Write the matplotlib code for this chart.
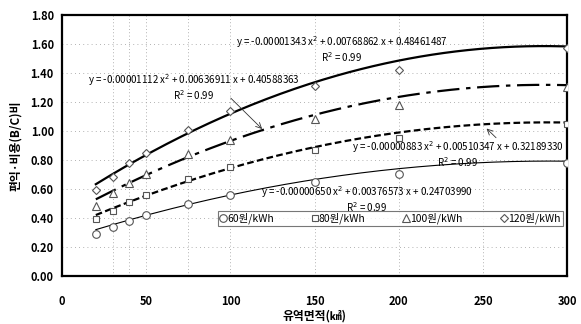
import matplotlib
matplotlib.use("Agg")
import matplotlib.pyplot as plt
import numpy as np

plt.rcParams['font.family'] = ['Noto Sans CJK KR', 'DejaVu Sans']

x_vals = [20, 30, 40, 50, 75, 100, 150, 200, 300]
y_60 = [0.29, 0.34, 0.38, 0.42, 0.50, 0.56, 0.65, 0.70, 0.78]
y_80 = [0.39, 0.45, 0.51, 0.56, 0.67, 0.75, 0.87, 0.95, 1.05]
y_100 = [0.48, 0.57, 0.64, 0.70, 0.84, 0.94, 1.08, 1.18, 1.30]
y_120 = [0.59, 0.68, 0.78, 0.85, 1.01, 1.14, 1.31, 1.42, 1.57]

coef_60 = [-0.00000650, 0.00376573, 0.24703990]
coef_80 = [-0.00000883, 0.00510347, 0.32189330]
coef_100 = [-0.00001112, 0.00636911, 0.40588363]
coef_120 = [-0.00001343, 0.00768862, 0.48461487]

labels = ['60원/kWh', '80원/kWh', '100원/kWh', '120원/kWh']
eq_texts = [
    'y = -0.00000650 x$^2$ + 0.00376573 x + 0.24703990\nR$^2$ = 0.99',
    'y = -0.00000883 x$^2$ + 0.00510347 x + 0.32189330\nR$^2$ = 0.99',
    'y = -0.00001112 x$^2$ + 0.00636911 x + 0.40588363\nR$^2$ = 0.99',
    'y = -0.00001343 x$^2$ + 0.00768862 x + 0.48461487\nR$^2$ = 0.99',
]

fig = plt.figure(figsize=(5.81, 3.24), dpi=100)
ax = fig.add_axes([0.107, 0.148, 0.869, 0.806])

# grid
for xv in [30, 40, 50, 75, 100, 150, 200, 250]:
    ax.axvline(xv, color='#999999', lw=0.6, ls=(0, (1, 3)), zorder=0)
for yv in np.arange(0.2, 1.8, 0.2):
    ax.axhline(yv, color='#999999', lw=0.6, ls=(0, (1, 4)), zorder=0)

xf = np.linspace(20, 300, 200)
series = [(y_60, coef_60, 'o', dict(lw=0.8, ls='-')),
          (y_80, coef_80, 's', dict(lw=1.6, ls=(0, (3, 1.5)))),
          (y_100, coef_100, '^', dict(lw=1.6, ls=(0, (10, 3, 2, 3)))),
          (y_120, coef_120, 'D', dict(lw=1.6, ls='-'))]
msizes = {'o': 5.5, 's': 4.5, '^': 5.5, 'D': 4.5}
handles = []
for (yv, c, m, st), lab in zip(series, labels):
    yf = np.polyval(c, xf)
    ax.plot(xf, yf, color='black', zorder=2, **st)
    h, = ax.plot(x_vals, yv, ls='none', marker=m, ms=msizes[m], mfc='white',
                 mec='#555555', mew=0.8, zorder=3, label=lab)
    handles.append(h)

ax.set_xlim(0, 300)
ax.set_ylim(0, 1.8)
ax.set_xticks([0, 50, 100, 150, 200, 250, 300])
ax.set_yticks(np.arange(0, 1.81, 0.2))
ax.set_yticklabels([f'{v:.2f}' for v in np.arange(0, 1.81, 0.2)])
ax.tick_params(axis='both', length=0, labelsize=8)
ax.tick_params(axis='x', pad=14)
ax.tick_params(axis='y', pad=6)
for lbl in ax.get_xticklabels() + ax.get_yticklabels():
    lbl.set_fontweight('bold')
for s in ax.spines.values():
    s.set_linewidth(1.6)

ax.set_xlabel('유역면적(㎢)', fontsize=8.5, fontweight='bold', labelpad=1)
ax.set_ylabel('편익·비용(B/C)비', fontsize=8.5, fontweight='bold', labelpad=6)

fs = 7
ax.text(166, 1.565, eq_texts[3], fontsize=fs, ha='center', va='center', linespacing=1.0)
ax.text(78, 1.30, eq_texts[2], fontsize=fs, ha='center', va='center', linespacing=1.0)
ax.text(235, 0.84, eq_texts[1], fontsize=fs, ha='center', va='center', linespacing=1.0)
ax.text(181, 0.53, eq_texts[0], fontsize=fs, ha='center', va='center', linespacing=1.0)

ax.annotate('', xy=(120, 1.00), xytext=(99, 1.24),
            arrowprops=dict(arrowstyle='->', color='#333333', lw=0.6))
ax.annotate('', xy=(251, 1.03), xytext=(259, 0.94),
            arrowprops=dict(arrowstyle='->', color='#333333', lw=0.6))

leg = ax.legend(handles=handles, loc='upper left', bbox_to_anchor=(0.308, 0.17, 0.683, 0.08),
                mode='expand', ncol=4, fontsize=7.5, frameon=True, fancybox=False,
                handlelength=0.6, handletextpad=0.1, columnspacing=0.8,
                borderpad=0.2, borderaxespad=0)
leg.get_frame().set_edgecolor('#555555')
leg.get_frame().set_linewidth(0.8)

fig.savefig('out.png', dpi=100)
